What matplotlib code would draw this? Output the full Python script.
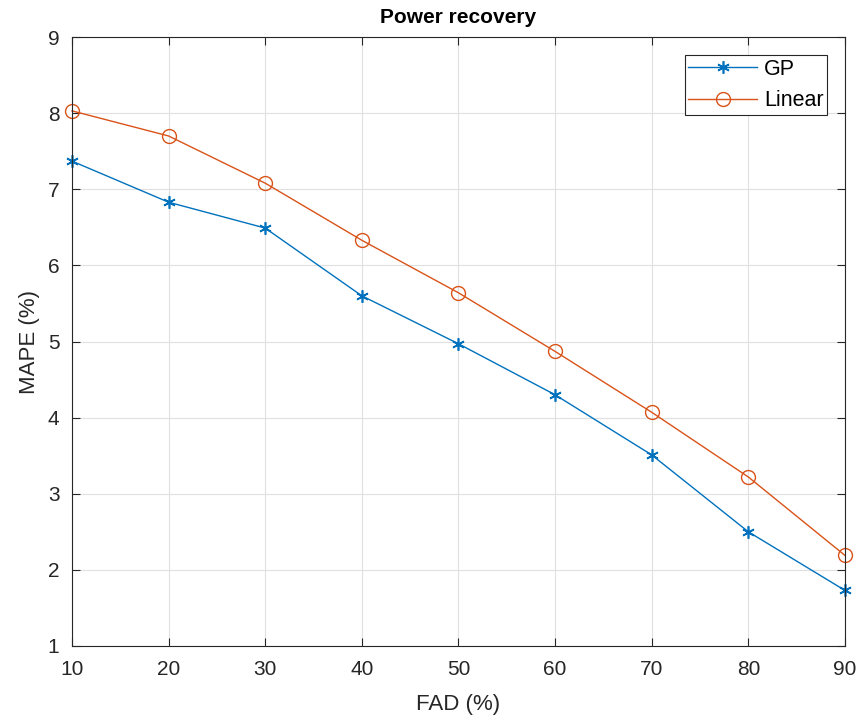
import matplotlib
matplotlib.use("Agg")
import matplotlib.pyplot as plt

fad = [10, 20, 30, 40, 50, 60, 70, 80, 90]
gp = [7.37, 6.83, 6.49, 5.60, 4.97, 4.30, 3.51, 2.50, 1.73]
linear = [8.03, 7.70, 7.08, 6.33, 5.64, 4.87, 4.07, 3.22, 2.19]

plt.rcParams['font.family'] = ['Liberation Sans', 'DejaVu Sans']

fig = plt.figure(figsize=(8.61, 7.26), dpi=100)
ax = fig.add_axes([0.0836, 0.1102, 0.8978, 0.8388])

ax.plot(fad, gp, color='#0072BD', marker=(6, 2, 0), markersize=9, linewidth=1,
        markeredgewidth=1.2, label='GP', clip_on=False)
ax.plot(fad, linear, color='#D95319', marker='o', markersize=10, linewidth=1,
        markerfacecolor='none', markeredgewidth=1, label='Linear', clip_on=False)

ax.set_xlim(10, 90)
ax.set_ylim(1, 9)
ax.set_xticks(fad)
ax.set_yticks(range(1, 10))
ax.tick_params(direction='in', labelsize=15, colors='#262626', length=6,
               top=True, right=True)
ax.tick_params(axis='x', pad=10)
ax.tick_params(axis='y', pad=9)
ax.grid(True, color='#e0e0e0', linewidth=0.8)
ax.set_axisbelow(True)
for s in ax.spines.values():
    s.set_color('#262626')

ax.set_xlabel('FAD (%)', fontsize=16, color='#262626', labelpad=11)
ax.set_ylabel('MAPE (%)', fontsize=16, color='#262626', labelpad=6)
ax.set_title('Power recovery', fontsize=15, fontweight='bold', pad=10)

leg = ax.legend(loc='upper right', fontsize=15.5, fancybox=False,
                edgecolor='#262626', handlelength=3.2, borderaxespad=0.85,
                labelspacing=0.5, borderpad=0.15, handletextpad=0.3,
                framealpha=1)
leg.get_frame().set_linewidth(0.8)

plt.savefig('out.png', dpi=100)
